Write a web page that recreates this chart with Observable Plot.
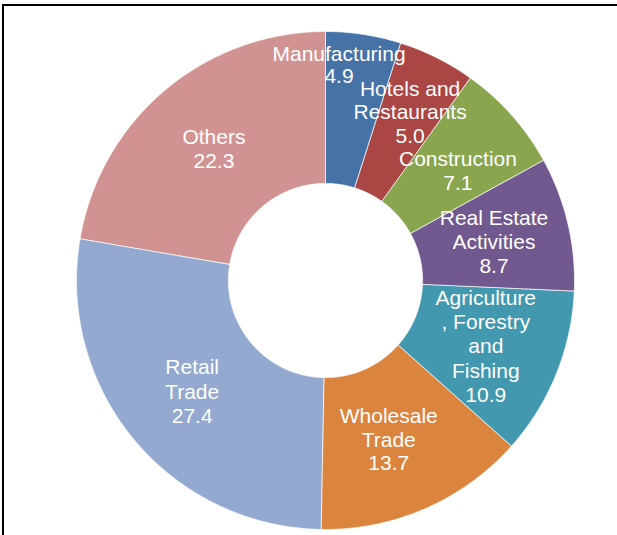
<!DOCTYPE html>
<html>
<head>
<meta charset="utf-8">
<script src="https://cdn.jsdelivr.net/npm/d3@7"></script>
<script src="https://cdn.jsdelivr.net/npm/@observablehq/plot@0.6"></script>
<style>
  html, body { margin: 0; padding: 0; background: #fff; }
  #wrap { position: relative; width: 617px; height: 535px; overflow: hidden; }
  #frame { position: absolute; left: 2px; top: 4px; right: -10px; bottom: -10px;
           border-top: 2px solid #000; border-left: 2px solid #000; pointer-events: none; }
  #chart { position: absolute; left: 0; top: 0; }
</style>
</head>
<body>
<div id="wrap"><div id="chart"></div><div id="frame"></div></div>
<script>
// ---- data ----
const categories = ["Manufacturing", "Hotels and Restaurants", "Construction", "Real Estate Activities",
  "Agriculture, Forestry and Fishing", "Wholesale Trade", "Retail Trade", "Others"];
const values = [4.9, 5.0, 7.1, 8.7, 10.9, 13.7, 27.4, 22.3];
const labelText = ["Manufacturing", "Hotels and\nRestaurants", "Construction", "Real Estate\nActivities",
  "Agriculture\n, Forestry\nand\nFishing", "Wholesale\nTrade", "Retail\nTrade", "Others"];
const colors = ["#4572A7", "#AA4643", "#89A54E", "#71588F", "#4198AF", "#DB843D", "#93A9CF", "#D19392"];

const innerRatio = 0.39;

// ---- build slice polygons from the pie layout ----
const arcs = d3.pie().sort(null).value(d => d)(values);
const polys = [];
arcs.forEach((a, i) => {
  const cat = categories[i];
  const n = Math.max(8, Math.ceil((a.endAngle - a.startAngle) / (Math.PI / 360)));
  for (let k = 0; k <= n; k++) {
    const t = a.startAngle + (a.endAngle - a.startAngle) * k / n;
    polys.push({cat, x: Math.sin(t), y: Math.cos(t)});
  }
  for (let k = n; k >= 0; k--) {
    const t = a.startAngle + (a.endAngle - a.startAngle) * k / n;
    polys.push({cat, x: innerRatio * Math.sin(t), y: innerRatio * Math.cos(t)});
  }
});
const rm = (1 + innerRatio) / 2;
const labels = arcs.map((a, i) => {
  const m = (a.startAngle + a.endAngle) / 2;
  return {cat: categories[i], x: rm * Math.sin(m), y: rm * Math.cos(m),
          text: labelText[i] + "\n" + values[i].toFixed(1), i};
});

const textStyle = {x: "x", y: "y", text: "text", fill: "white", fontSize: 21,
  lineHeight: 1.15, textAnchor: "middle", lineAnchor: "middle"};
// label nudges (Excel moves crowded labels off the slice centre)
const nudged = {0: [-13, -45], 1: [7, -14], 2: [3, 5], 5: [-6, 0]};
const labelMarks = [
  Plot.text(labels.filter(d => !(d.i in nudged)), textStyle),
  ...Object.entries(nudged).map(([i, [dx, dy]]) =>
    Plot.text(labels.filter(d => d.i === +i), {...textStyle, dx, dy, lineHeight: +i === 0 ? 1.05 : 1.12}))
];

const chart = Plot.plot({
  width: 617,
  height: 535,
  marginLeft: 76,
  marginRight: 43,
  marginTop: 31,
  marginBottom: 6,
  x: {domain: [-1, 1], axis: null},
  y: {domain: [-1, 1], axis: null},
  color: {domain: categories, range: colors},
  style: {fontFamily: "'Liberation Sans', Arial, sans-serif", background: "transparent"},
  marks: [
    Plot.line(polys, {x: "x", y: "y", z: "cat", fill: "cat", stroke: "white", strokeWidth: 0.7, curve: "linear-closed"}),
    ...labelMarks
  ]
});
document.getElementById("chart").appendChild(chart);
</script>
</body>
</html>
